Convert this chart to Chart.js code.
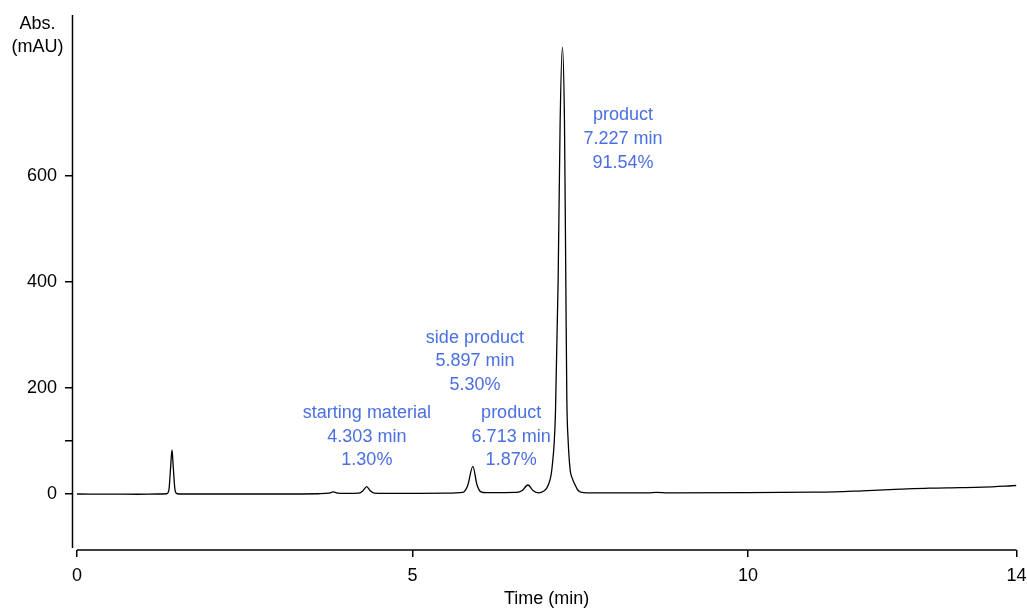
<!DOCTYPE html>
<html>
<head>
<meta charset="utf-8">
<script src="https://cdn.jsdelivr.net/npm/chart.js@4.4.1/dist/chart.umd.min.js"></script>
<style>
  html, body { margin: 0; padding: 0; background: #ffffff; }
  #wrap { width: 1027px; height: 608px; position: relative; }
</style>
</head>
<body>
<div id="wrap"><canvas id="c" width="1027" height="608"></canvas></div>
<script>
// ---- Data ----
const times = [0, 0.6, 0.9, 1.2, 1.34, 1.37, 1.395, 1.416, 1.435, 1.46, 1.49, 1.6,
  3.0, 3.6, 3.75, 3.82, 3.89, 4.0, 4.2, 4.26, 4.317, 4.37, 4.43, 4.6,
  5.5, 5.75, 5.82, 5.9, 5.96, 6.02, 6.1, 6.55, 6.63, 6.72, 6.8, 6.88,
  6.95, 7.02, 7.08, 7.13, 7.17, 7.20, 7.234, 7.265, 7.285, 7.30, 7.32, 7.35, 7.38, 7.42, 7.46, 7.52,
  7.7, 8.5, 8.64, 8.8, 10, 11.0, 11.3, 11.7, 12.27, 12.7, 13.16, 13.5, 14];
const absorbance = [0, -0.3, -0.5, 0, 0.5, 8, 50, 83, 50, 8, 0.5, 0,
  0, 0.5, 1.5, 4, 1.5, 1, 1.5, 6, 14, 6, 1.5, 1,
  1.5, 3, 15, 52, 18, 4, 2.5, 3, 6, 17, 6, 2,
  5, 16, 50, 150, 400, 700, 843, 700, 400, 180, 100, 45, 30, 18, 8, 3,
  2, 2, 3, 2, 2.5, 3.5, 4, 6, 9, 11, 12, 13, 16];

const xTickValues = [0, 5, 10, 14];
const xTickLabels = ['0', '5', '10', '14'];
const yTickValues = [0, 100, 200, 400, 600];
const yTickLabels = ['0', '', '200', '400', '600'];

const xTitle = 'Time (min)';
const yTitleLines = ['Abs.', '(mAU)'];

// Peak annotations: anchor (time, absorbance) of middle line, text lines
const peakLabelTimes = [4.32, 5.93, 6.47, 8.137];
const peakLabelValues = [108, 250, 108, 670];
const peakLabelTexts = [
  ['starting material', '4.303 min', '1.30%'],
  ['side product', '5.897 min', '5.30%'],
  ['product', '6.713 min', '1.87%'],
  ['product', '7.227 min', '91.54%']
];

// ---- Styling ----
const FONT = '"Liberation Sans", Arial, sans-serif';
const LABEL_BLUE = '#4a6fe3';

const overlay = {
  id: 'overlay',
  afterDraw(chart) {
    const ctx = chart.ctx;
    const xs = chart.scales.x, ys = chart.scales.y;
    const area = chart.chartArea;
    ctx.save();
    // axis lines
    ctx.strokeStyle = '#000';
    ctx.lineWidth = 1.5;
    ctx.beginPath();
    ctx.moveTo(area.left + 0.5, area.top);
    ctx.lineTo(area.left + 0.5, ys.getPixelForValue(-102));
    ctx.stroke();
    ctx.beginPath();
    ctx.moveTo(xs.getPixelForValue(0), area.bottom);
    ctx.lineTo(xs.getPixelForValue(14), area.bottom);
    ctx.stroke();

    // axis titles
    ctx.fillStyle = '#000';
    ctx.font = '18px ' + FONT;
    ctx.textAlign = 'center';
    ctx.textBaseline = 'middle';
    ctx.fillText(yTitleLines[0], 37.5, 24);
    ctx.fillText(yTitleLines[1], 37.5, 47);
    ctx.fillText(xTitle, (xs.getPixelForValue(0) + xs.getPixelForValue(14)) / 2 + 0, 599);

    // peak labels
    ctx.fillStyle = LABEL_BLUE;
    const lh = 23.7;
    peakLabelTexts.forEach((lines, i) => {
      const px = xs.getPixelForValue(peakLabelTimes[i]);
      const py = ys.getPixelForValue(peakLabelValues[i]);
      lines.forEach((t, j) => {
        ctx.fillText(t, px, py + (j - 1) * lh);
      });
    });
    ctx.restore();
  }
};

new Chart(document.getElementById('c'), {
  type: 'line',
  data: {
    datasets: [{
      data: times.map((t, i) => ({ x: t, y: absorbance[i] })),
      borderColor: '#000',
      borderWidth: 1.3,
      pointRadius: 0,
      fill: false,
      cubicInterpolationMode: 'monotone'
    }]
  },
  options: {
    responsive: false,
    animation: false,
    devicePixelRatio: 1,
    layout: { padding: { top: 15, right: 10.6, left: 0, bottom: 0 } },
    plugins: { legend: { display: false }, tooltip: { enabled: false } },
    scales: {
      x: {
        type: 'linear',
        min: -0.0745,
        max: 14,
        afterBuildTicks: s => { s.ticks = xTickValues.map(v => ({ value: v })); },
        afterFit: s => { s.height = 58; s.paddingLeft = 0; s.paddingRight = 0; },
        border: { display: false },
        grid: { drawOnChartArea: false, drawTicks: true, tickLength: 7, color: '#000', lineWidth: 1.5 },
        ticks: {
          autoSkip: false, maxRotation: 0, padding: 8, color: '#000',
          font: { size: 18, family: FONT },
          callback: (v) => { const k = xTickValues.indexOf(v); return k >= 0 ? xTickLabels[k] : ''; }
        }
      },
      y: {
        type: 'linear',
        min: -105.7,
        max: 904,
        afterBuildTicks: s => { s.ticks = yTickValues.map(v => ({ value: v })); },
        afterFit: s => { s.width = 72; s.paddingTop = 0; s.paddingBottom = 0; },
        border: { display: false },
        grid: { drawOnChartArea: false, drawTicks: true, tickLength: 7, color: '#000', lineWidth: 1.5 },
        ticks: {
          autoSkip: false, padding: 8, color: '#000',
          font: { size: 18, family: FONT },
          callback: (v) => { const k = yTickValues.indexOf(v); return k >= 0 ? yTickLabels[k] : ''; }
        }
      }
    }
  },
  plugins: [overlay]
});
</script>
</body>
</html>
